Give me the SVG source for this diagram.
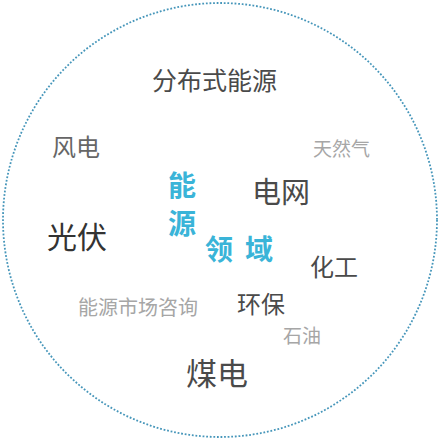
<svg xmlns="http://www.w3.org/2000/svg" width="440" height="440" viewBox="0 0 440 440">
<style>
text{font-family:"Noto Sans CJK SC","Noto Sans",sans-serif;}
.d{fill:#4a4a4a}
.m{fill:#666}
.l{fill:#a6a6a6}
.b{fill:#3ab4d8;font-weight:bold;font-size:28px}
</style>
<rect width="440" height="440" fill="#fff"/>
<circle cx="220" cy="220" r="217" fill="none" stroke="#4696ba" stroke-width="1.8" stroke-dasharray="1.8 1.8"/>
<g id="t1"><text x="152" y="90" font-size="25" class="d">分布式能源</text></g>
<g id="t2"><text x="52" y="156" font-size="24" class="m">风电</text></g>
<g id="t3"><text x="313" y="156" font-size="19" class="l">天然气</text></g>
<g id="t4"><text x="168" y="196" class="b">能</text><text x="168" y="234" class="b">源</text><text x="205" y="260" class="b" letter-spacing="12">领域</text></g>
<g id="t5"><text x="252" y="203" font-size="29" class="d">电网</text></g>
<g id="t6"><text x="47" y="248" font-size="30" fill="#333">光伏</text></g>
<g id="t7"><text x="310" y="276" font-size="24" class="d">化工</text></g>
<g id="t8"><text x="78" y="315" font-size="20" class="l">能源市场咨询</text></g>
<g id="t9"><text x="237" y="313" font-size="24" class="d">环保</text></g>
<g id="t10"><text x="283" y="343" font-size="19" class="l">石油</text></g>
<g id="t11"><text x="186" y="385" font-size="31" class="d">煤电</text></g>
</svg>
